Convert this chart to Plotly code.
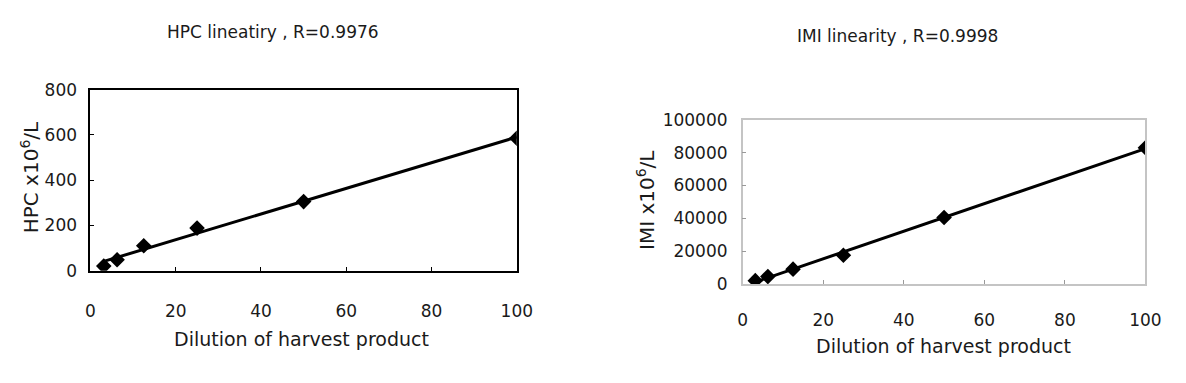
import numpy as np
import plotly.graph_objects as go

# Data
dilution = [3.125, 6.25, 12.5, 25, 50, 100]
hpc = [20, 48, 110, 188, 305, 585]
imi = [2000, 4500, 9000, 17500, 40500, 83000]

hpc_title = "HPC lineatiry , R=0.9976"
imi_title = "IMI linearity , R=0.9998"
x_title = "Dilution of harvest product"
hpc_ytitle = "HPC x10<sup>6</sup>/L"
imi_ytitle = "IMI x10<sup>6</sup>/L"

x_ticks = [0, 20, 40, 60, 80, 100]
hpc_ticks = [0, 200, 400, 600, 800]
imi_ticks = [0, 20000, 40000, 60000, 80000, 100000]
imi_ticktext = ["0", "20000", "40000", "60000", "80000", "100000"]

# linear trend lines (least squares fit of the data)
xs = np.array(dilution, dtype=float)
xfit = np.array([min(dilution), max(dilution)])
p1 = np.polyfit(xs, np.array(hpc, float), 1)
p2 = np.polyfit(xs, np.array(imi, float), 1)

FONT = "DejaVu Sans, Liberation Sans, Arial, sans-serif"
TXT = "#1a1a1a"
fig = go.Figure()

fig.add_trace(go.Scatter(x=xfit, y=np.polyval(p1, xfit), mode="lines",
                         line=dict(color="black", width=3), xaxis="x", yaxis="y",
                         showlegend=False, hoverinfo="skip"))
fig.add_trace(go.Scatter(x=dilution, y=hpc, mode="markers",
                         marker=dict(symbol="diamond", color="black", size=12),
                         xaxis="x", yaxis="y", showlegend=False))
fig.add_trace(go.Scatter(x=xfit, y=np.polyval(p2, xfit), mode="lines",
                         line=dict(color="black", width=3), xaxis="x2", yaxis="y2",
                         showlegend=False, hoverinfo="skip"))
fig.add_trace(go.Scatter(x=dilution, y=imi, mode="markers",
                         marker=dict(symbol="diamond", color="black", size=12),
                         xaxis="x2", yaxis="y2", showlegend=False))

W, H = 1186, 383
def px(x):
    return x / W
def py(y):
    return 1 - y / H

tickfont = dict(family=FONT, size=17, color=TXT)

def ann(text, x, y, size, angle=0):
    return dict(text=text, x=px(x), y=py(y), xref="paper", yref="paper",
                xanchor="center", yanchor="middle", showarrow=False,
                textangle=angle, font=dict(family=FONT, size=size, color=TXT))

fig.update_layout(
    width=W, height=H,
    margin=dict(l=0, r=0, t=0, b=0),
    paper_bgcolor="white", plot_bgcolor="white",
    font=dict(family=FONT, color=TXT),
    xaxis=dict(domain=[px(87), px(521)], range=[0, 100], tickvals=x_ticks,
               ticks="inside", ticklen=4, tickcolor="black", showgrid=False, zeroline=False,
               showline=True, linecolor="black", linewidth=2, mirror=True,
               tickfont=tickfont, anchor="y", ticklabelstandoff=24),
    yaxis=dict(domain=[py(275), py(84)], range=[0, 800], tickvals=hpc_ticks,
               ticks="inside", ticklen=4, tickcolor="black", showgrid=False, zeroline=False,
               showline=True, linecolor="black", linewidth=2, mirror=True,
               tickfont=tickfont, anchor="x", ticklabelstandoff=8),
    xaxis2=dict(domain=[px(751), px(1161)], range=[0, 100], tickvals=x_ticks,
                ticks="inside", ticklen=4, tickcolor="#999999", showgrid=False, zeroline=False,
                showline=True, linecolor="#c4c4c4", linewidth=1.5, mirror=True,
                tickfont=tickfont, anchor="y2", ticklabelstandoff=20),
    yaxis2=dict(domain=[py(289), py(116)], range=[0, 100000], tickvals=imi_ticks,
                ticktext=imi_ticktext,
                ticks="inside", ticklen=4, tickcolor="#999999", showgrid=False, zeroline=False,
                showline=True, linecolor="#c4c4c4", linewidth=1.5, mirror=True,
                tickfont=tickfont, anchor="x2", ticklabelstandoff=10),
    annotations=[
        ann(hpc_title, 273, 23, 17),
        ann(imi_title, 909, 27, 17),
        ann(x_title, 302, 347, 19),
        ann(x_title, 955, 355, 19),
        ann(hpc_ytitle, 25, 177, 20, -90),
        ann(imi_ytitle, 652, 200, 20, -90),
    ],
)

fig.write_html("out.html")
